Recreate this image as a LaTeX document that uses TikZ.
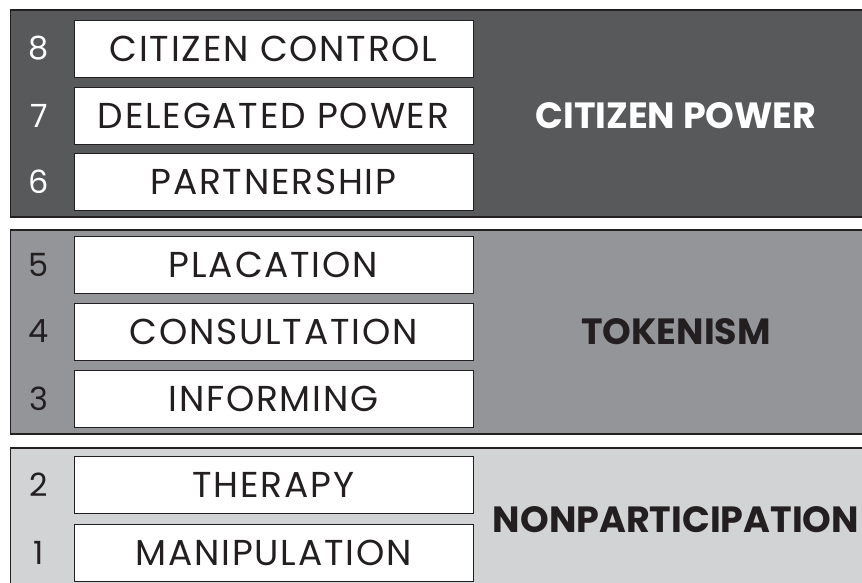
\documentclass[tikz,border=0pt]{standalone}
\usepackage{fontspec}
\setmainfont{Poppins}
\newfontfamily\rungfont[LetterSpace=5]{Poppins}
\usepackage{tikz}

\definecolor{ink}{HTML}{231F20}
\definecolor{powerfill}{HTML}{58595B}
\definecolor{tokenfill}{HTML}{939598}
\definecolor{nonfill}{HTML}{D1D3D4}

\begin{document}
\begin{tikzpicture}[x=1pt,y=1pt,
  band/.style={draw=ink,line width=1.3pt},
  rung node/.style={rectangle,fill=white,draw=ink,line width=0.9pt,text=ink,
    minimum width=399pt,minimum height=57pt,inner sep=0pt,
    font=\rungfont\fontsize{36}{36}\selectfont},
  num node/.style={inner sep=0pt,font=\fontsize{32}{32}\selectfont},
  group node/.style={inner sep=0pt,font=\fontsize{36.5}{36.5}\selectfont\bfseries}]

  \useasboundingbox (0,0) rectangle (862,583);

  % the three bands, running off the right edge
  \path[band,fill=powerfill] (10.5,366) rectangle (880,573);
  \path[band,fill=tokenfill] (10.5,149) rectangle (880,353);
  \path[band,fill=nonfill] (10.5,-10) rectangle (880,135);

  % rungs of the ladder
  \node[rung node] (8) at (273.5,534.5) {CITIZEN CONTROL};
  \node[rung node] (7) at (273.5,467) {DELEGATED POWER};
  \node[rung node] (6) at (273.5,401.5) {PARTNERSHIP};
  \node[rung node] (5) at (273.5,318.5) {PLACATION};
  \node[rung node] (4) at (273.5,251.5) {CONSULTATION};
  \node[rung node] (3) at (273.5,184) {INFORMING};
  \node[rung node] (2) at (273.5,98) {THERAPY};
  \node[rung node] (1) at (273.5,30) {MANIPULATION};

  % rung numbers
  \node[num node,text=white] (n8) at (39,534.5) {8};
  \node[num node,text=white] (n7) at (39,467) {7};
  \node[num node,text=white] (n6) at (39,401.5) {6};
  \node[num node,text=ink] (n5) at (39,318.5) {5};
  \node[num node,text=ink] (n4) at (39,251.5) {4};
  \node[num node,text=ink] (n3) at (39,184) {3};
  \node[num node,text=ink] (n2) at (39,98) {2};
  \node[num node,text=ink] (n1) at (39,30) {1};

  % group labels
  \node[group node,text=white] (power) at (676,467) {CITIZEN POWER};
  \node[group node,text=ink] (token) at (676,251.5) {TOKENISM};
  \node[group node,text=ink] (nonpart) at (676,63) {NONPARTICIPATION};

\end{tikzpicture}
\end{document}
